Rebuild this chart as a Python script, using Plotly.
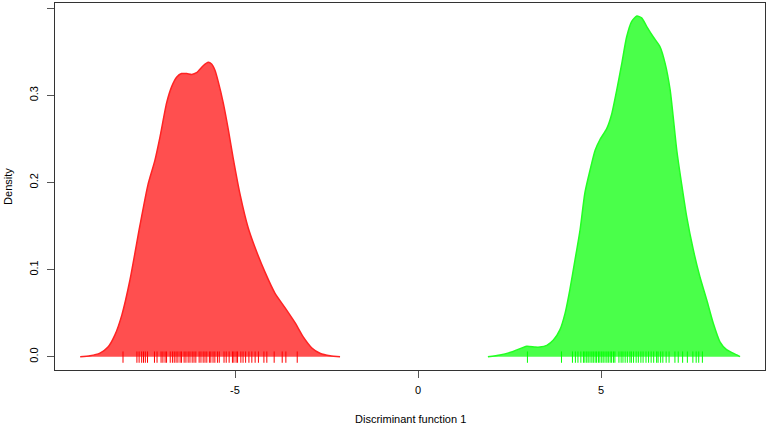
import plotly.graph_objects as go

# Density curve of group 1 (red)
red_x = [-9.23, -8.96, -8.69, -8.47, -8.28, -8.09, -7.87, -7.60, -7.38, -7.19, -7.05, -6.87,
         -6.73, -6.59, -6.46, -6.32, -6.18, -6.05, -5.87, -5.73, -5.64, -5.55, -5.46, -5.32,
         -5.18, -5.05, -4.86, -4.64, -4.45, -4.18, -3.91, -3.63, -3.36, -3.14, -2.90, -2.68,
         -2.40, -2.13]
red_d = [0.000, 0.001, 0.004, 0.011, 0.025, 0.048, 0.088, 0.150, 0.197, 0.225, 0.252, 0.291,
         0.310, 0.321, 0.325, 0.325, 0.324, 0.326, 0.334, 0.338, 0.336, 0.329, 0.316, 0.291,
         0.260, 0.228, 0.186, 0.148, 0.125, 0.097, 0.073, 0.056, 0.039, 0.023, 0.010, 0.004,
         0.001, 0.000]

# Density curve of group 2 (green)
green_x = [1.91, 2.24, 2.60, 2.97, 3.20, 3.33, 3.52, 3.70, 3.88, 4.02, 4.15, 4.29, 4.43, 4.56,
           4.70, 4.84, 4.97, 5.16, 5.29, 5.43, 5.57, 5.70, 5.84, 5.98, 6.11, 6.25, 6.43, 6.61,
           6.75, 6.89, 7.07, 7.20, 7.34, 7.52, 7.70, 7.89, 8.07, 8.25, 8.43, 8.71, 8.80]
green_d = [0.000, 0.002, 0.006, 0.012, 0.011, 0.011, 0.013, 0.019, 0.031, 0.050, 0.077, 0.111,
           0.146, 0.188, 0.214, 0.237, 0.249, 0.262, 0.278, 0.306, 0.337, 0.367, 0.385, 0.391,
           0.389, 0.379, 0.367, 0.356, 0.337, 0.306, 0.237, 0.199, 0.161, 0.123, 0.092, 0.065,
           0.038, 0.017, 0.008, 0.002, 0.000]

# Rug (observations)
red_rug = [-8.06, -7.68, -7.62, -7.55, -7.50, -7.45, -7.39, -7.20, -7.13, -7.02, -6.97, -6.91,
           -6.87, -6.77, -6.71, -6.66, -6.61, -6.56, -6.50, -6.46, -6.39, -6.34, -6.28, -6.23,
           -6.17, -6.12, -6.07, -5.98, -5.93, -5.87, -5.82, -5.77, -5.70, -5.66, -5.60, -5.55,
           -5.48, -5.43, -5.30, -5.24, -5.16, -5.07, -5.03, -4.97, -4.93, -4.84, -4.78, -4.71,
           -4.62, -4.54, -4.45, -4.36, -4.21, -4.13, -3.93, -3.71, -3.61, -3.30]
green_rug = [2.99, 3.92, 4.22, 4.30, 4.37, 4.45, 4.52, 4.56, 4.61, 4.65, 4.70, 4.75, 4.79, 4.84,
             4.88, 4.93, 4.97, 5.02, 5.06, 5.11, 5.16, 5.20, 5.25, 5.29, 5.34, 5.38, 5.49, 5.55,
             5.60, 5.66, 5.72, 5.79, 5.83, 5.89, 5.96, 6.02, 6.09, 6.15, 6.23, 6.30, 6.37, 6.44,
             6.52, 6.56, 6.63, 6.69, 6.78, 6.86, 7.02, 7.11, 7.23, 7.36, 7.51, 7.60, 7.67, 7.77]

x_ticks = [-5, 0, 5]
x_tick_labels = ["-5", "0", "5"]
y_ticks = [0.0, 0.1, 0.2, 0.3, 0.4]
y_tick_labels = ["0.0", "0.1", "0.2", "0.3", "0.4"]
x_title = "Discriminant function 1"
y_title = "Density"

RUG_LO, RUG_HI = -0.007, 0.006


def rug_xy(vals):
    xs, ys = [], []
    for v in vals:
        xs += [v, v, None]
        ys += [RUG_LO, RUG_HI, None]
    return xs, ys


fig = go.Figure()
fig.add_trace(go.Scatter(x=red_x, y=red_d, mode="lines", fill="tozeroy",
                         line=dict(color="rgb(255,35,35)", width=1.5, shape="spline", smoothing=0.6),
                         fillcolor="rgba(255,0,0,0.69)", hoverinfo="skip", showlegend=False))
fig.add_trace(go.Scatter(x=green_x, y=green_d, mode="lines", fill="tozeroy",
                         line=dict(color="rgb(35,255,35)", width=1.5, shape="spline", smoothing=0.6),
                         fillcolor="rgba(0,255,0,0.71)", hoverinfo="skip", showlegend=False))
rx, ry = rug_xy(red_rug)
fig.add_trace(go.Scatter(x=rx, y=ry, mode="lines", line=dict(color="#ff0000", width=1),
                         hoverinfo="skip", showlegend=False))
gx, gy = rug_xy(green_rug)
fig.add_trace(go.Scatter(x=gx, y=gy, mode="lines", line=dict(color="#00ff00", width=1),
                         hoverinfo="skip", showlegend=False))

font = dict(family="Liberation Sans, Arial, sans-serif", size=11, color="#000000")
fig.update_layout(
    width=767, height=425,
    margin=dict(l=55, r=2, t=3, b=55, autoexpand=False),
    paper_bgcolor="white", plot_bgcolor="white",
    font=font,
    xaxis=dict(range=[-9.918, 9.481], tickvals=x_ticks, ticktext=x_tick_labels,
               showgrid=False, zeroline=False, showline=True, mirror=True, automargin=False,
               linecolor="#333333", linewidth=1, ticks="outside", ticklen=7,
               tickcolor="#555555", tickfont=font, ticklabelstandoff=3),
    yaxis=dict(range=[-0.0153, 0.406], tickvals=y_ticks, ticktext=y_tick_labels,
               showgrid=False, zeroline=False, showline=True, mirror=True, automargin=False,
               linecolor="#333333", linewidth=1, ticks="outside", ticklen=7,
               tickcolor="#555555", tickangle=-90, tickfont=font, ticklabelstandoff=5),
    annotations=[
        dict(text=x_title, xref="paper", yref="paper", x=0.5, y=-0.133,
             xanchor="center", yanchor="middle", showarrow=False, font=font),
        dict(text=y_title, xref="paper", yref="paper", x=-0.067, y=0.5,
             xanchor="center", yanchor="middle", textangle=-90, showarrow=False, font=font),
    ],
)

fig.write_html(
    "out.html",
    config={"displayModeBar": False},
    post_script="document.body.style.margin='0';document.body.style.overflow='hidden';",
)
